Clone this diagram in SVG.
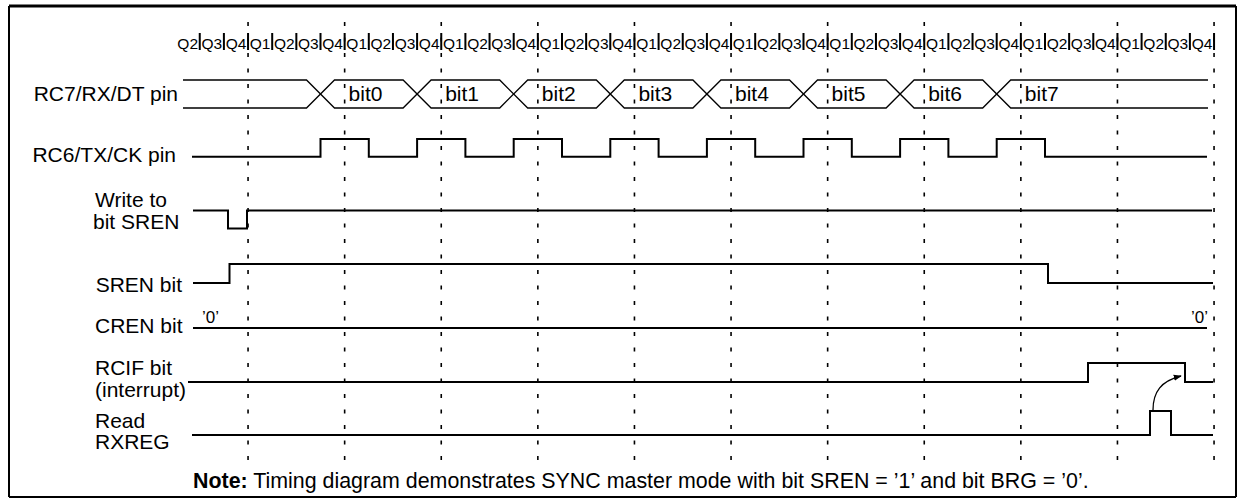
<svg xmlns="http://www.w3.org/2000/svg" width="1245" height="500" viewBox="0 0 1245 500">
<style>
.lbl{font-family:"Liberation Sans",Arial,sans-serif;font-size:21px;fill:#000}
.q{font-family:"Liberation Sans",Arial,sans-serif;font-size:15.5px;fill:#000;text-anchor:middle}
.z{font-family:"Liberation Sans",Arial,sans-serif;font-size:17px;fill:#000}
.w{fill:none;stroke:#000;stroke-width:2}
.d{fill:none;stroke:#000;stroke-width:1.3}
.grid{fill:none;stroke:#000;stroke-width:1.6;stroke-dasharray:4 11.5}
</style>
<defs>
<marker id="ah" viewBox="0 0 10 10" refX="9" refY="5" markerWidth="8" markerHeight="8" markerUnits="userSpaceOnUse" orient="auto">
<path d="M0,1 L10,5 L0,9 Z" fill="#000"/>
</marker>
</defs>
<rect width="1245" height="500" fill="#fff"/>
<g id="frame">
<path d="M9,497 V6 M1236,6 V497 M9,497 H1236" fill="none" stroke="#000" stroke-width="2"/>
<path d="M9,6 H1236" stroke="#000" stroke-width="3"/>
</g>
<g id="grid">
<path class="grid" d="M248.05,22 V460 M344.65,22 V460 M441.25,22 V460 M537.85,22 V460 M634.45,22 V460 M731.05,22 V460 M827.65,22 V460 M924.25,22 V460 M1020.85,22 V460 M1117.45,22 V460 M1214.05,22 V460"/>
</g>
<g id="q-phases">
<path d="M199.75,33v17M223.9,33v17M248.05,33v17M272.2,33v17M296.35,33v17M320.5,33v17M344.65,33v17M368.8,33v17M392.95,33v17M417.1,33v17M441.25,33v17M465.4,33v17M489.55,33v17M513.7,33v17M537.85,33v17M562,33v17M586.15,33v17M610.3,33v17M634.45,33v17M658.6,33v17M682.75,33v17M706.9,33v17M731.05,33v17M755.2,33v17M779.35,33v17M803.5,33v17M827.65,33v17M851.8,33v17M875.95,33v17M900.1,33v17M924.25,33v17M948.4,33v17M972.55,33v17M996.7,33v17M1020.85,33v17M1045,33v17M1069.15,33v17M1093.3,33v17M1117.45,33v17M1141.6,33v17M1165.75,33v17M1189.9,33v17M1214.05,33v17" stroke="#000" stroke-width="2"/>
<text class="q" y="49"><tspan x="187.7">Q2</tspan><tspan x="211.8">Q3</tspan><tspan x="236">Q4</tspan><tspan x="260.1">Q1</tspan><tspan x="284.3">Q2</tspan><tspan x="308.4">Q3</tspan><tspan x="332.6">Q4</tspan><tspan x="356.7">Q1</tspan><tspan x="380.9">Q2</tspan><tspan x="405">Q3</tspan><tspan x="429.2">Q4</tspan><tspan x="453.3">Q1</tspan><tspan x="477.5">Q2</tspan><tspan x="501.6">Q3</tspan><tspan x="525.8">Q4</tspan><tspan x="549.9">Q1</tspan><tspan x="574.1">Q2</tspan><tspan x="598.2">Q3</tspan><tspan x="622.4">Q4</tspan><tspan x="646.5">Q1</tspan><tspan x="670.7">Q2</tspan><tspan x="694.8">Q3</tspan><tspan x="719">Q4</tspan><tspan x="743.1">Q1</tspan><tspan x="767.3">Q2</tspan><tspan x="791.4">Q3</tspan><tspan x="815.6">Q4</tspan><tspan x="839.7">Q1</tspan><tspan x="863.9">Q2</tspan><tspan x="888">Q3</tspan><tspan x="912.2">Q4</tspan><tspan x="936.3">Q1</tspan><tspan x="960.5">Q2</tspan><tspan x="984.6">Q3</tspan><tspan x="1008.8">Q4</tspan><tspan x="1032.9">Q1</tspan><tspan x="1057.1">Q2</tspan><tspan x="1081.2">Q3</tspan><tspan x="1105.4">Q4</tspan><tspan x="1129.5">Q1</tspan><tspan x="1153.7">Q2</tspan><tspan x="1177.8">Q3</tspan><tspan x="1202">Q4</tspan></text>
</g>
<g id="rc7">
<text class="lbl" x="178" y="101" text-anchor="end">RC7/RX/DT pin</text>
<path class="d" d="M183,80 H306.5 L334.5,108 H403.1 L431.1,80 H499.7 L527.7,108 H596.3 L624.3,80 H692.9 L720.9,108 H789.5 L817.5,80 H886.1 L914.1,108 H982.7 L1010.7,80 H1208"/>
<path class="d" d="M183,108 H306.5 L334.5,80 H403.1 L431.1,108 H499.7 L527.7,80 H596.3 L624.3,108 H692.9 L720.9,80 H789.5 L817.5,108 H886.1 L914.1,80 H982.7 L1010.7,108 H1208"/>
<text class="lbl" y="101"><tspan x="348.6">bit0</tspan><tspan x="445.2">bit1</tspan><tspan x="541.8">bit2</tspan><tspan x="638.4">bit3</tspan><tspan x="735">bit4</tspan><tspan x="831.6">bit5</tspan><tspan x="928.2">bit6</tspan><tspan x="1024.8">bit7</tspan></text>
</g>
<g id="rc6">
<text class="lbl" x="176" y="162" text-anchor="end">RC6/TX/CK pin</text>
<path class="w" d="M192,156.7 H320.5 V139 H368.8 V156.7 H417.1 V139 H465.4 V156.7 H513.7 V139 H562 V156.7 H610.3 V139 H658.6 V156.7 H706.9 V139 H755.2 V156.7 H803.5 V139 H851.8 V156.7 H900.1 V139 H948.4 V156.7 H996.7 V139 H1045 V156.7 H1207"/>
</g>
<g id="write-sren">
<text class="lbl" x="95" y="207">Write to</text>
<text class="lbl" x="93" y="229">bit SREN</text>
<path class="w" d="M193,210.5 H228 V228.5 H247 V210.5 H1212"/>
</g>
<g id="sren">
<text class="lbl" x="182" y="292" text-anchor="end">SREN bit</text>
<path class="w" d="M193,283 H229.5 V264 H1048 V283 H1213"/>
</g>
<g id="cren">
<text class="lbl" x="95" y="333">CREN bit</text>
<text class="z" x="202" y="323">’0’</text>
<text class="z" x="1208" y="323" text-anchor="end">’0’</text>
<path class="w" d="M193,328 H1207"/>
</g>
<g id="rcif">
<text class="lbl" x="95" y="375">RCIF bit</text>
<text class="lbl" x="95" y="397">(interrupt)</text>
<path class="w" d="M188,382 H1088 V363 H1185 V382 H1213"/>
</g>
<g id="rxreg">
<text class="lbl" x="95" y="428">Read</text>
<text class="lbl" x="95" y="449">RXREG</text>
<path class="w" d="M192,435 H1150 V411 H1171 V435 H1213"/>
</g>
<g id="connectors">
<path d="M1153,410 C1153,392 1161,381 1181,376" fill="none" stroke="#000" stroke-width="1.3" marker-end="url(#ah)"/>
</g>
<g id="note">
<text class="lbl" x="193" y="488" style="font-size:21.4px"><tspan font-weight="bold">Note:</tspan> Timing diagram demonstrates SYNC master mode with bit SREN = ’1’ and bit BRG = ’0’.</text>
</g>
</svg>
